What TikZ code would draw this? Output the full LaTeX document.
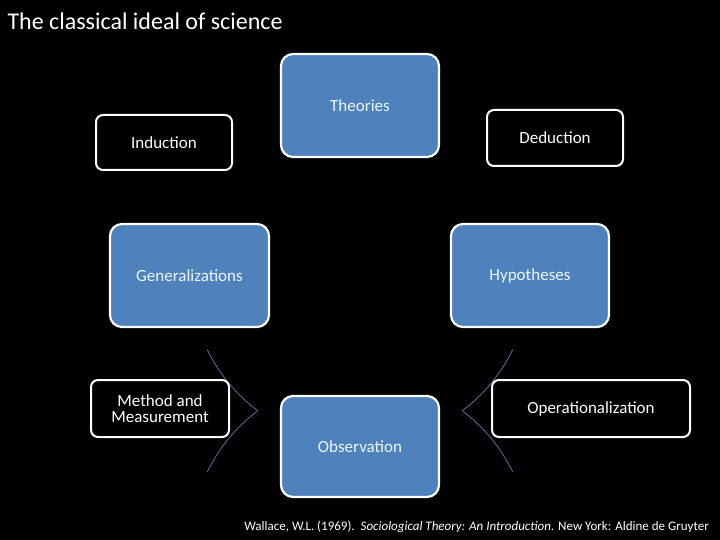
\documentclass[tikz,border=0pt]{standalone}
\usepackage{fontspec}
\setmainfont{Carlito}
\begin{document}
\begin{tikzpicture}[x=1pt,y=-1pt,
 bluebox/.style={draw=white,line width=2.2pt,fill={rgb,255:red,79;green,129;blue,189},rounded corners=12pt,text=white!92!cyan,font=\fontsize{17}{19}\selectfont},
 blackbox/.style={draw=white,line width=2pt,fill=black,rounded corners=7pt,text=white,font=\fontsize{17}{19}\selectfont,align=center},
 arcline/.style={draw={rgb,255:red,90;green,110;blue,160},line width=0.8pt}]
\fill[black] (0,0) rectangle (720,540);
\useasboundingbox (0,0) rectangle (720,540);
\node[anchor=west,text=white,font=\fontsize{24}{28}\selectfont] (title) at (4,21) {The classical ideal of science};
\coordinate (c) at (360,275);
\draw[arcline] ([shift={(127:170)}]c) arc[start angle=-127,end angle=-154,radius=170];
\draw[arcline] ([shift={(53:170)}]c) arc[start angle=-53,end angle=-26,radius=170];
\draw[arcline] ([shift={(154:170)}]c) arc[start angle=154,end angle=127,radius=170];
\draw[arcline] ([shift={(26:170)}]c) arc[start angle=26,end angle=53,radius=170];
\node[bluebox,minimum width=158pt,minimum height=103pt] (th) at (360,105.5) {Theories};
\node[bluebox,minimum width=159pt,minimum height=103pt] (ge) at (189.5,275.5) {Generalizations};
\node[bluebox,minimum width=158pt,minimum height=103pt] (hy) at (530,275.5) {Hypotheses};
\node[bluebox,minimum width=158pt,minimum height=101pt] (ob) at (360,446.5) {Observation};
\node[blackbox,minimum width=136pt,minimum height=55pt] (in) at (164,142.5) {Induction};
\node[blackbox,minimum width=136pt,minimum height=56pt] (de) at (555,138) {Deduction};
\node[blackbox,minimum width=138pt,minimum height=57pt,inner sep=2pt] (me) at (160,408.5) {Method and\\[-3pt]Measurement};
\node[blackbox,minimum width=198pt,minimum height=57pt] (op) at (591,408.5) {Operationalization};
\node[anchor=east,text=white,font=\fontsize{13}{15}\selectfont,inner sep=0pt] (ref) at (709,527) {Wallace, W.L. (1969).\ \ \textit{Sociological Theory: An Introduction}. New York: Aldine de Gruyter};
\end{tikzpicture}
\end{document}
